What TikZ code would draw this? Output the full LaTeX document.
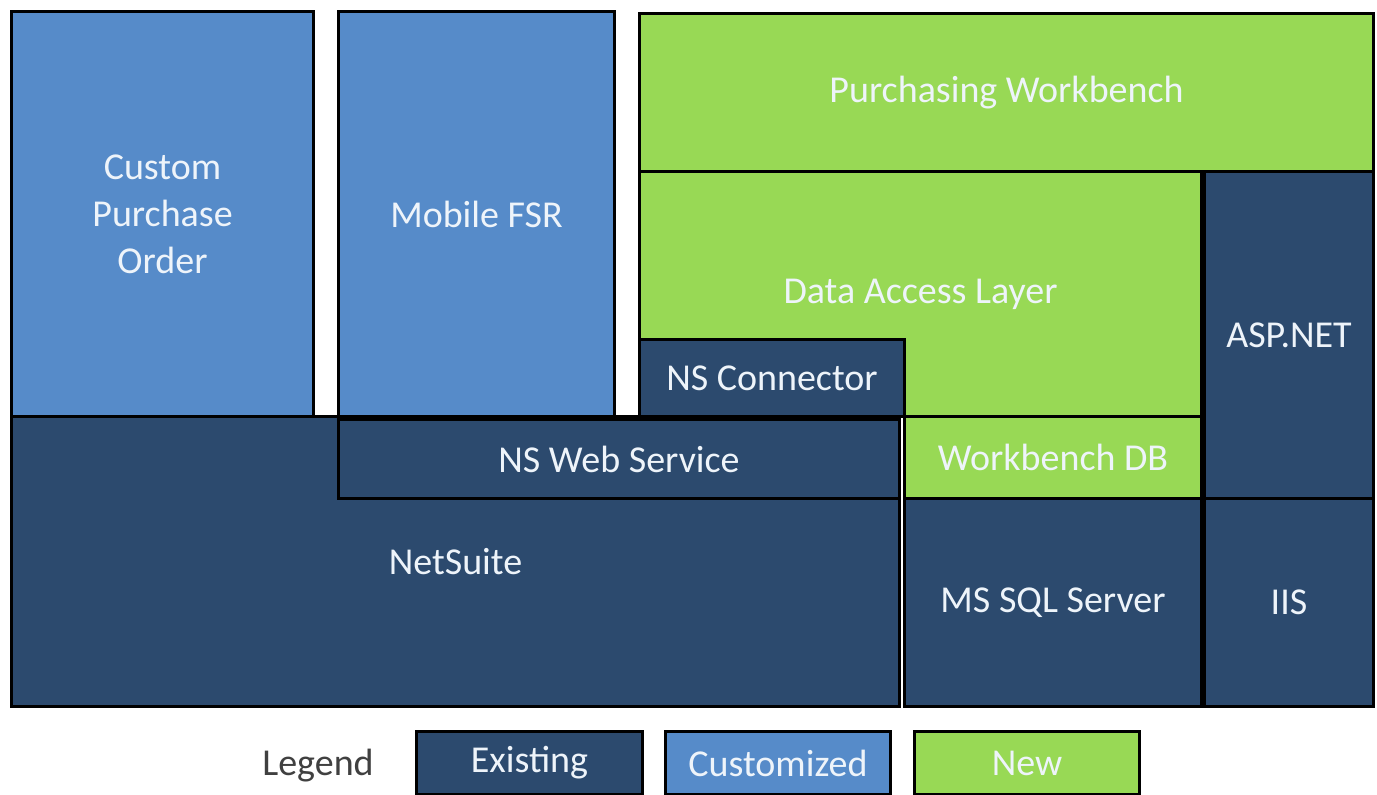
\documentclass[tikz,border=0pt]{standalone}
\usepackage{fontspec}
\setmainfont{Carlito}
\usetikzlibrary{positioning}

\definecolor{existingblue}{HTML}{2C4A6E}
\definecolor{customblue}{HTML}{568BC9}
\definecolor{newgreen}{HTML}{98D955}
\definecolor{labelwhite}{HTML}{EEF4FA}

\tikzset{
  layer/.style={draw=black, line width=3pt, inner sep=0pt, anchor=north west,
    text=labelwhite, font=\fontsize{38}{47}\selectfont, align=center},
  existing/.style={layer, fill=existingblue},
  customized/.style={layer, fill=customblue},
  newlayer/.style={layer, fill=newgreen},
}

\begin{document}
\begin{tikzpicture}[x=1pt, y=-1pt]
      \useasboundingbox (0,0) rectangle (1377,795);
      % top row
      \node[customized, minimum width=302pt, minimum height=405pt] (cpo) at (10,10) {Custom\\Purchase\\Order};
      \node[customized, minimum width=276pt, minimum height=405pt] (mfsr) at (337,10) {Mobile FSR};
      \node[newlayer, minimum width=734pt, minimum height=158pt] (pwb) at (638,12) {Purchasing Workbench};
      \node[newlayer, minimum width=562pt, minimum height=245pt] (dal) at (638,170) {Data Access Layer};
      \node[existing, minimum width=265pt, minimum height=77pt] (nsconn) at (638,338) {NS Connector};
      \node[existing, minimum width=169pt, minimum height=327pt] (aspnet) at (1203,170) {ASP.NET};
      % bottom row
      \node[existing, minimum width=888pt, minimum height=290pt] (netsuite) at (10,415) {NetSuite};
      \node[existing, minimum width=561pt, minimum height=79pt] (nsws) at (337,418) {NS Web Service};
      \node[newlayer, minimum width=297pt, minimum height=82pt] (wbdb) at (903,415) {Workbench DB};
      \node[existing, minimum width=297pt, minimum height=208pt] (mssql) at (903,497) {MS SQL Server};
      \node[existing, minimum width=169pt, minimum height=208pt] (iis) at (1203,497) {IIS};
      % legend
      \node[text=black!75, font=\fontsize{38}{47}\selectfont] (legend) at (318,766) {Legend};
      \node[existing, minimum width=226pt, minimum height=63pt] (legexist) at (415,730) {Existing};
      \node[customized, minimum width=225pt, minimum height=63pt] (legcust) at (664,730) {Customized};
      \node[newlayer, minimum width=225pt, minimum height=63pt] (legnew) at (913,730) {New};
\end{tikzpicture}
\end{document}
